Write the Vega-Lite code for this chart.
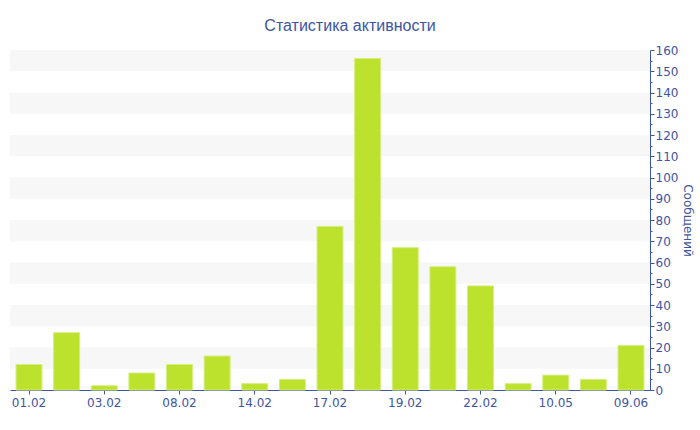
{
  "$schema": "https://vega.github.io/schema/vega-lite/v6.json",
  "width": 640,
  "height": 340,
  "autosize": {"type": "none"},
  "padding": {"left": 10, "top": 50, "right": 50, "bottom": 40},
  "background": "white",
  "title": {
    "text": "Статистика активности",
    "font": "Liberation Sans",
    "fontSize": 16,
    "fontWeight": "normal",
    "color": "#3e55a0",
    "anchor": "middle",
    "dx": 20,
    "offset": 10
  },
  "datasets": {
    "bands": [
      {"lo": 150, "hi": 160}, {"lo": 130, "hi": 140}, {"lo": 110, "hi": 120}, {"lo": 90, "hi": 100},
      {"lo": 70, "hi": 80}, {"lo": 50, "hi": 60}, {"lo": 30, "hi": 40}, {"lo": 10, "hi": 20}
    ],
    "bars": [
      {"date": "01.02", "count": 12},
      {"date": "02.02", "count": 27},
      {"date": "03.02", "count": 2},
      {"date": "07.02", "count": 8},
      {"date": "08.02", "count": 12},
      {"date": "11.02", "count": 16},
      {"date": "14.02", "count": 3},
      {"date": "16.02", "count": 5},
      {"date": "17.02", "count": 77},
      {"date": "18.02", "count": 156},
      {"date": "19.02", "count": 67},
      {"date": "20.02", "count": 58},
      {"date": "22.02", "count": 49},
      {"date": "14.03", "count": 3},
      {"date": "10.05", "count": 7},
      {"date": "24.05", "count": 5},
      {"date": "09.06", "count": 21}
    ]
  },
  "layer": [
    {
      "data": {"name": "bands"},
      "mark": {"type": "rect", "color": "#f7f7f7"},
      "encoding": {
        "y": {
          "field": "lo", "type": "quantitative",
          "scale": {"domain": [0, 160], "nice": false},
          "axis": {
            "orient": "right",
            "title": "Сообщений",
            "titleFont": "DejaVu Sans",
            "titleFontSize": 12,
            "titleFontWeight": "normal",
            "titleColor": "#3e55a0",
            "titlePadding": 3,
            "values": [0,5,10,15,20,25,30,35,40,45,50,55,60,65,70,75,80,85,90,95,100,105,110,115,120,125,130,135,140,145,150,155,160],
            "labelExpr": "datum.value % 10 === 0 ? datum.label : ''",
            "labelFont": "DejaVu Sans",
            "labelFontSize": 12,
            "labelColor": "#3e55a0",
            "labelPadding": 1,
            "labelFlush": false,
            "labelOverlap": false,
            "domainColor": "#3e55a0",
            "tickColor": "#3e55a0",
            "tickSize": {"condition": {"test": "datum.value % 10 === 0", "value": 4}, "value": 2},
            "grid": false
          }
        },
        "y2": {"field": "hi"}
      }
    },
    {
      "data": {"name": "bars"},
      "mark": {"type": "bar", "fill": "#bce22e", "stroke": "#d5ee80", "strokeWidth": 1},
      "encoding": {
        "x": {
          "field": "date", "type": "nominal", "sort": null,
          "scale": {"paddingInner": 0.31, "paddingOuter": 0.16},
          "axis": {
            "title": null,
            "values": ["01.02", "03.02", "08.02", "14.02", "17.02", "19.02", "22.02", "10.05", "09.06"],
            "labelAngle": 0,
            "labelFont": "DejaVu Sans",
            "labelFontSize": 12,
            "labelColor": "#3e55a0",
            "labelPadding": 3,
            "domainColor": "#3e55a0",
            "tickColor": "#3e55a0",
            "tickSize": 4,
            "grid": false
          }
        },
        "y": {
          "field": "count", "type": "quantitative",
          "scale": {"domain": [0, 160], "nice": false},
          "axis": {
            "orient": "right",
            "title": "Сообщений",
            "titleFont": "DejaVu Sans",
            "titleFontSize": 12,
            "titleFontWeight": "normal",
            "titleColor": "#3e55a0",
            "titlePadding": 3,
            "values": [0,5,10,15,20,25,30,35,40,45,50,55,60,65,70,75,80,85,90,95,100,105,110,115,120,125,130,135,140,145,150,155,160],
            "labelExpr": "datum.value % 10 === 0 ? datum.label : ''",
            "labelFont": "DejaVu Sans",
            "labelFontSize": 12,
            "labelColor": "#3e55a0",
            "labelPadding": 1,
            "labelFlush": false,
            "labelOverlap": false,
            "domainColor": "#3e55a0",
            "tickColor": "#3e55a0",
            "tickSize": {"condition": {"test": "datum.value % 10 === 0", "value": 4}, "value": 2},
            "grid": false
          }
        }
      }
    }
  ],
  "config": {
    "view": {"stroke": null},
    "axis": {"domainWidth": 1, "tickWidth": 1}
  }
}
